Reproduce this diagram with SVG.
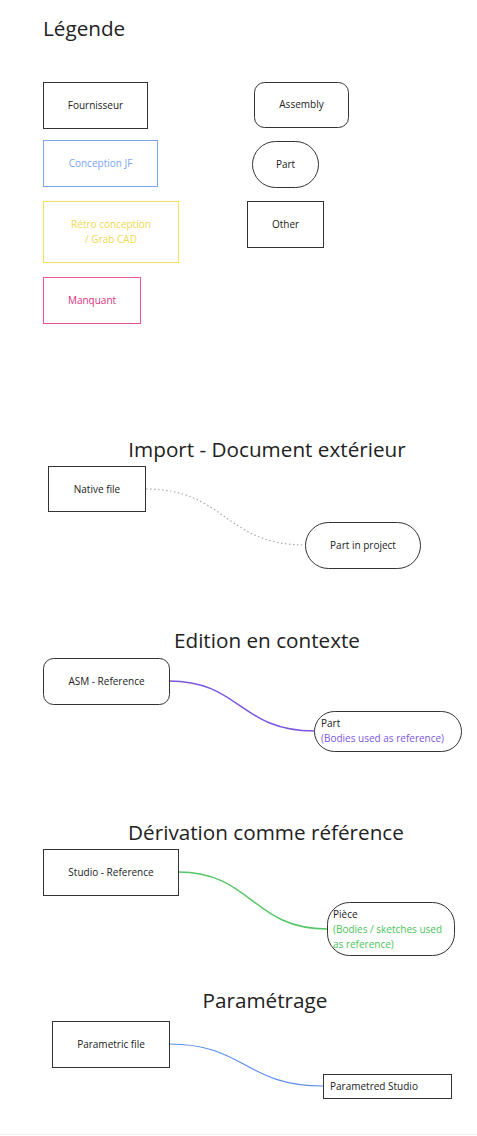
<svg xmlns="http://www.w3.org/2000/svg" width="477" height="1136" viewBox="0 0 477 1136">
<style>
text{font-family:"Open Sans","Noto Sans","Liberation Sans",sans-serif;fill:#222}
.t{font-size:20.7px}
.l{font-size:10px}
.box{fill:#fff;stroke:#333;stroke-width:1}
.mid{text-anchor:middle}
.c{fill:none;stroke-width:1.5}
</style>
<rect width="477" height="1136" fill="#fff"/>
<line x1="0" y1="1134.5" x2="477" y2="1134.5" stroke="#eeeeee" stroke-width="1"/>
<g id="titles">
<text class="t" x="43" y="36">Légende</text>
<text class="t mid" x="267" y="457">Import - Document extérieur</text>
<text class="t mid" x="267" y="648">Edition en contexte</text>
<text class="t mid" x="266" y="840">Dérivation comme référence</text>
<text class="t mid" x="265" y="1008">Paramétrage</text>
</g>
<g id="fournisseur"><rect class="box" x="43.5" y="82.5" width="104" height="46"/><text class="l mid" x="95.5" y="109">Fournisseur</text></g>
<g id="conception"><rect class="box" x="43.5" y="140.5" width="114" height="46" style="stroke:#7aa5f5"/><text class="l mid" x="100.5" y="167" style="fill:#7aa5f5">Conception JF</text></g>
<g id="retro"><rect class="box" x="43.5" y="201.5" width="135" height="61" style="stroke:#f5e05a"/><text class="l mid" x="111" y="228" style="fill:#f0d850">Rétro conception</text><text class="l mid" x="111" y="243" style="fill:#f0d850">/ Grab CAD</text></g>
<g id="manquant"><rect class="box" x="43.5" y="277.5" width="97" height="46" style="stroke:#e8559a"/><text class="l mid" x="92" y="304" style="fill:#e0307a">Manquant</text></g>
<g id="assembly"><rect class="box" x="254.5" y="82.5" width="94" height="45" rx="10"/><text class="l mid" x="301.5" y="108">Assembly</text></g>
<g id="part"><rect class="box" x="252.5" y="141.5" width="66" height="46" rx="23"/><text class="l mid" x="285.5" y="168">Part</text></g>
<g id="other"><rect class="box" x="247.5" y="201.5" width="76" height="46"/><text class="l mid" x="285.5" y="228">Other</text></g>
<g id="connectors">
<path class="c" d="M146,489 C225,489 225,545 305,545" stroke="#aaaaaa" stroke-dasharray="1.5,2.5" style="stroke-width:1.2"/>
<path class="c" d="M169,681 C240,681 240,731 314,731" stroke="#7b55e0"/>
<path class="c" d="M178,872 C252,872 252,929 327,929" stroke="#55c565"/>
<path class="c" d="M169,1044 C245,1044 245,1086 323,1086" stroke="#5b8def" style="stroke-width:1.2"/>
</g>
<g id="native"><rect class="box" x="48.5" y="466.5" width="97" height="45"/><text class="l mid" x="97" y="493">Native file</text></g>
<g id="partproject"><rect class="box" x="305.5" y="522.5" width="115" height="46" rx="23"/><text class="l mid" x="363" y="549">Part in project</text></g>
<g id="asmref"><rect class="box" x="43.5" y="658.5" width="126" height="46" rx="10"/><text class="l mid" x="106.5" y="685">ASM - Reference</text></g>
<g id="partbodies"><rect class="box" x="314.5" y="711.5" width="147" height="40" rx="20"/><text class="l" x="321" y="727">Part</text><text class="l" x="321" y="742" style="fill:#7b55e0">(Bodies used as reference)</text></g>
<g id="studioref"><rect class="box" x="43.5" y="849.5" width="135" height="46"/><text class="l mid" x="111" y="876">Studio - Reference</text></g>
<g id="piece"><rect class="box" x="327.5" y="902.5" width="127" height="53" rx="22"/><text class="l" x="333" y="918">Pièce</text><text class="l" x="333" y="933" style="fill:#4cc35a">(Bodies / sketches used</text><text class="l" x="333" y="948" style="fill:#4cc35a">as reference)</text></g>
<g id="parametric"><rect class="box" x="52.5" y="1021.5" width="117" height="46"/><text class="l mid" x="111" y="1048">Parametric file</text></g>
<g id="parametred"><rect class="box" x="323.5" y="1074.5" width="128" height="24"/><text class="l" x="330" y="1090">Parametred Studio</text></g>
</svg>
